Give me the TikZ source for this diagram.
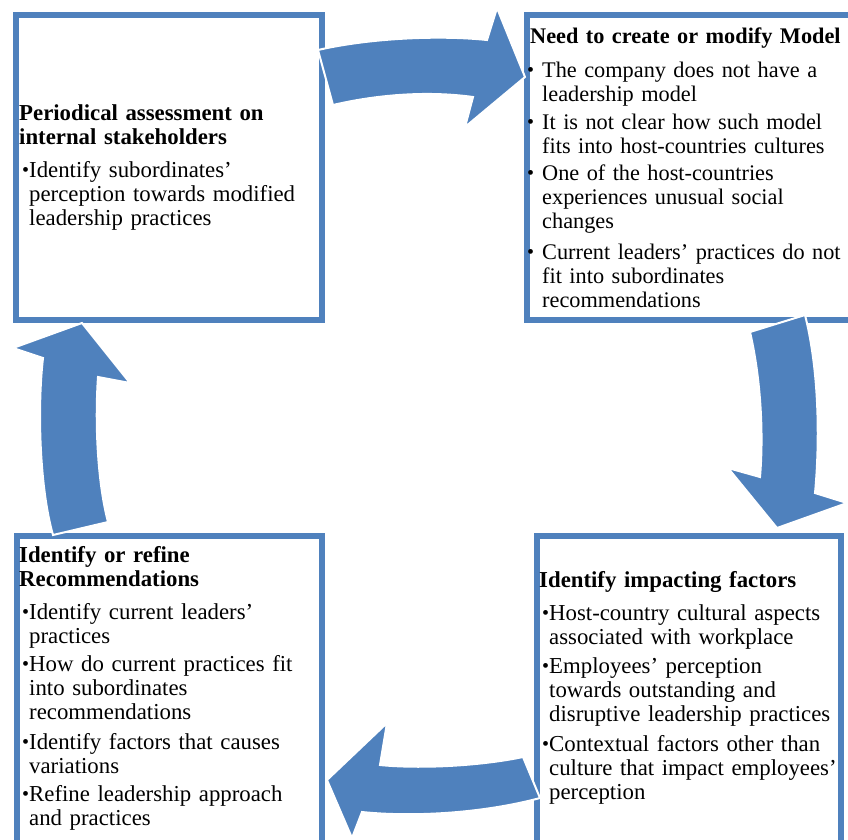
\documentclass[tikz,border=0pt]{standalone}
\usepackage{fontspec}
\setmainfont{Liberation Serif}
\definecolor{ablue}{HTML}{4F81BD}
\newcommand\bulA{\hspace*{3pt}\makebox[7pt][l]{\fontsize{20}{20}\selectfont\raisebox{0.5pt}{•}}}
\newcommand\indA{\hspace*{10pt}}
\newcommand\bulB{\makebox[15pt][l]{\fontsize{20}{20}\selectfont\raisebox{0.5pt}{•}}}
\newcommand\indB{\hspace*{15pt}}
\tikzset{
  boxframe/.style={draw=ablue, line width=6pt},
  blockarrow/.style={fill=ablue, draw=white, line width=2pt, line join=miter},
  txt/.style={text width=360pt, align=left, inner sep=0pt, anchor=base west,
    font=\fontsize{22.8}{24}\selectfont, text=black}
}
\begin{document}
\begin{tikzpicture}[x=1pt,y=-1pt]
\useasboundingbox (0,0) rectangle (848,839);
\clip (0,0) rectangle (848,839);
% boxes
\draw[boxframe] (16,14.5) rectangle (322,319.5);
\draw[boxframe] (527,15) rectangle (856,319.5);
\draw[boxframe] (17,536) rectangle (322,850);
\draw[boxframe] (537,536) rectangle (841,850);
% arrows
\path[blockarrow] (318,50) .. controls (370,38) and (440,35) .. (487,40) -- (497,8) -- (525,77) -- (465,127) -- (473,97) .. controls (430,91) and (380,94) .. (333,105) -- cycle;
\path[blockarrow] (750,332) .. controls (760,375) and (764,430) .. (760,477) -- (728,468) -- (777,528) -- (847,503) -- (815,493) .. controls (820,440) and (819,370) .. (805,315) -- cycle;
\path[blockarrow] (523,757) .. controls (480,766) and (420,769) .. (380,765) -- (387,723) -- (327,780) -- (352,838) -- (362,812) .. controls (410,817) and (480,814) .. (540,798) -- cycle;
\path[blockarrow] (53,535) .. controls (40,490) and (37,410) .. (43,358) -- (13,348) -- (82,323) -- (130,383) -- (98,377) .. controls (95,420) and (97,480) .. (108,522) -- cycle;
% texts
\node[txt] (tltext) at (19,120) {\textbf{Periodical assessment on}\\
\textbf{internal stakeholders}\\[9pt]
\bulA Identify subordinates’\\
\indA perception towards modified\\
\indA leadership practices};
\node[txt, font=\fontsize{22.3}{24}\selectfont] (trtext) at (527,43) {\hspace*{3pt}\textbf{Need to create or modify Model}\\[10pt]
\bulB The company does not have a\\
\indB leadership model\\[4pt]
\bulB It is not clear how such model\\
\indB fits into host-countries cultures\\[3pt]
\bulB One of the host-countries\\
\indB experiences unusual social\\
\indB changes\\[7pt]
\bulB Current leaders’ practices do not\\
\indB fit into subordinates\\
\indB recommendations};
\node[txt] (bltext) at (19,562) {\textbf{Identify or refine}\\
\textbf{Recommendations}\\[9pt]
\bulA Identify current leaders’\\
\indA practices\\[4pt]
\bulA How do current practices fit\\
\indA into subordinates\\
\indA recommendations\\[6pt]
\bulA Identify factors that causes\\
\indA variations\\[4pt]
\bulA Refine leadership approach\\
\indA and practices};
\node[txt] (brtext) at (539,587) {\textbf{Identify impacting factors}\\[9pt]
\bulA Host-country cultural aspects\\
\indA associated with workplace\\[5pt]
\bulA Employees’ perception\\
\indA towards outstanding and\\
\indA disruptive leadership practices\\[6pt]
\bulA Contextual factors other than\\
\indA culture that impact employees’\\
\indA perception};
\end{tikzpicture}
\end{document}
